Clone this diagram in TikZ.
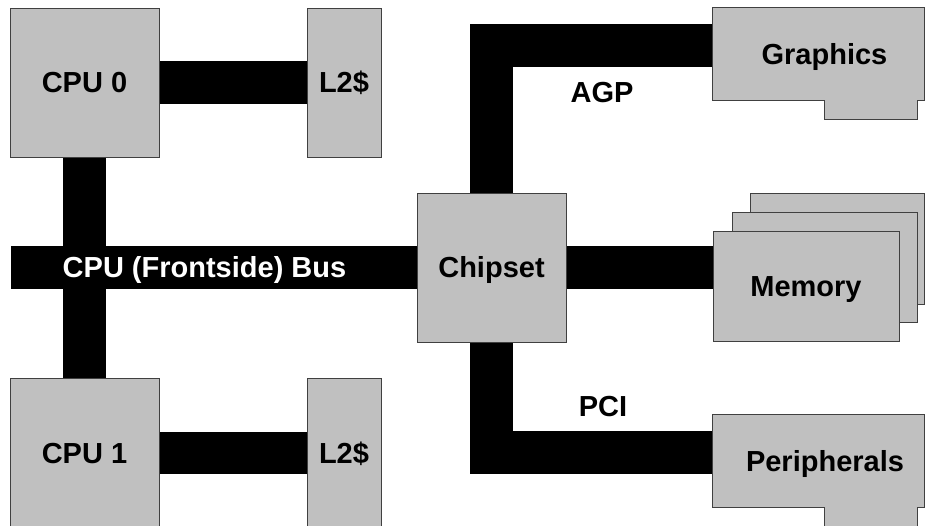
\documentclass[tikz,border=0pt]{standalone}
\usepackage{fontspec}
\setmainfont{Liberation Sans}
\usetikzlibrary{backgrounds}
\definecolor{boxgray}{HTML}{C0C0C0}
\definecolor{edgegray}{HTML}{404040}
\begin{document}
\begin{tikzpicture}[x=1pt,y=-1pt,
  txt/.style={inner sep=0pt,text height=20.8pt,text depth=0pt,font=\fontsize{29}{33}\selectfont\bfseries},
  box/.style={txt,rectangle,draw=edgegray,fill=boxgray,line width=1pt},
  cardline/.style={draw=edgegray,fill=boxgray,line width=1pt},
  anchorbox/.style={inner sep=0pt,rectangle},
  bus/.style={line width=42.5pt,draw=black,line cap=butt,line join=miter}]
\useasboundingbox (0,0) rectangle (925,525);
\clip (0,0) rectangle (925,525);

% processors and caches
\node[box,minimum width=149pt,minimum height=149pt] (cpu0) at (84.5,82.5) {CPU 0};
\node[box,minimum width=74pt,minimum height=149pt] (l2a) at (344,82.5) {L2\$};
\node[box,minimum width=149pt,minimum height=150pt] (cpu1) at (84.5,453) {CPU 1};
\node[box,minimum width=74pt,minimum height=150pt] (l2b) at (344,453) {L2\$};
\node[box,minimum width=149pt,minimum height=149pt] (chip) at (491.5,267.5) {Chipset};

% memory stack
\node[box,minimum width=174pt,minimum height=111pt] (memc) at (837,248.5) {};
\node[box,minimum width=185pt,minimum height=110pt] (memb) at (824.5,267) {};
\node[box,minimum width=186pt,minimum height=110pt] (mem) at (806,286) {Memory};

% graphics card
\node[anchorbox,minimum width=211pt,minimum height=92pt] (gfx) at (818.5,54) {};
\draw[cardline] (gfx.north west) -- (gfx.north east) -- (gfx.south east) -- ++(-7,0) -- ++(0,19) -- ++(-93,0) -- ++(0,-19) -- (gfx.south west) -- cycle;
\node[txt] (gfxt) at (824.5,54.5) {Graphics};

% peripherals card
\node[anchorbox,minimum width=211pt,minimum height=92pt] (peri) at (818.5,461) {};
\draw[cardline] (peri.north west) -- (peri.north east) -- (peri.south east) -- ++(-7,0) -- ++(0,40) -- ++(-93,0) -- ++(0,-40) -- (peri.south west) -- cycle;
\node[txt] (perit) at (825,461.5) {Peripherals};

% bus labels
\coordinate (fsbend) at (11,267.5);
\node[txt,text=white] (fsbt) at (204.5,267) {CPU (Frontside) Bus};
\node[txt] (agpt) at (602,92) {AGP};
\node[txt] (pcit) at (603,406) {PCI};

\begin{pgfonlayer}{background}
\draw[bus] (cpu0.east) -- (l2a.west);
\draw[bus] (cpu1.east) -- (l2b.west);
\draw[bus] (cpu0.south) -- (cpu1.north);
\draw[bus] (fsbend) -- (chip.west);
\draw[bus] (chip.east) -- (mem.west |- chip.east);
\draw[bus] (chip.north) |- ([yshift=8.5pt]gfx.west);
\draw[bus] (chip.south) |- ([yshift=8.5pt]peri.west);
\end{pgfonlayer}
\end{tikzpicture}
\end{document}
